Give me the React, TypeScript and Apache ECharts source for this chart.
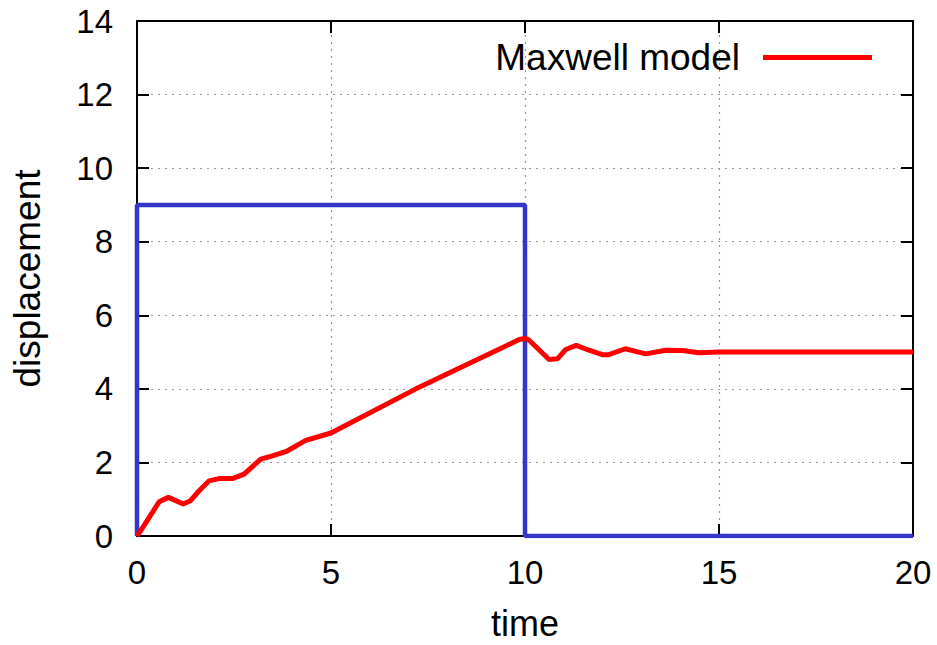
import React, { useEffect, useRef } from "react";
import * as echarts from "echarts";

const xTicks = [0, 5, 10, 15, 20];
const yTicks = [0, 2, 4, 6, 8, 10, 12, 14];

const maxwellX = [0, 0.18, 0.57, 0.81, 1.19, 1.38, 1.6, 1.86, 2.11, 2.46, 2.76, 3.19, 3.49, 3.87, 4.35, 5.0, 7.19, 9.85, 10.0, 10.1, 10.62, 10.84, 11.05, 11.32, 11.65, 11.99, 12.16, 12.59, 12.85, 13.11, 13.63, 14.06, 14.48, 15.0, 20.0];
const maxwellY = [0, 0.28, 0.93, 1.05, 0.87, 0.96, 1.23, 1.5, 1.56, 1.56, 1.68, 2.09, 2.18, 2.31, 2.6, 2.8, 4.0, 5.34, 5.37, 5.33, 4.8, 4.82, 5.07, 5.18, 5.05, 4.93, 4.93, 5.09, 5.02, 4.95, 5.05, 5.04, 4.98, 5.0, 5.0];

const forceX = [0, 0, 10, 10, 20];
const forceY = [0, 9, 9, 0, 0];

const FONT = "Liberation Sans, Arial, Helvetica, sans-serif";

export default function App() {
  const ref = useRef<HTMLDivElement>(null);
  useEffect(() => {
    if (!ref.current) return;
    const chart = echarts.init(ref.current, undefined, { renderer: "svg" });
    const axisLine = { show: true, onZero: false, lineStyle: { color: "#000", width: 2 } };
    const tick = { show: true, inside: true, length: 12, lineStyle: { color: "#000", width: 2 } };
    chart.setOption({
      animation: false,
      textStyle: { fontFamily: FONT },
      grid: { left: 137, right: 24, top: 21, bottom: 109, containLabel: false, outerBoundsMode: "none" },
      legend: {
        show: true,
        data: [{ name: "Maxwell model", icon: "rect" }],
        align: "right",
        right: 60,
        top: 34,
        itemWidth: 109,
        itemHeight: 5,
        textStyle: { fontSize: 37, color: "#000", fontFamily: FONT, padding: [0, 18, 0, 0] },
      },
      xAxis: [
        {
          type: "value",
          min: 0,
          max: 20,
          interval: 5,
          position: "bottom",
          name: "time",
          nameLocation: "middle",
          nameGap: 72,
          nameTextStyle: { fontSize: 36, lineHeight: 30, color: "#000", fontFamily: FONT },
          axisLine,
          axisTick: tick,
          axisLabel: { fontSize: 33, color: "#000", margin: 20, fontFamily: FONT, formatter: (v: number) => (xTicks.includes(v) ? String(v) : "") },
          splitLine: { show: true, lineStyle: { color: "#999", type: [2, 5], width: 1.2 } },
        },
        {
          type: "value",
          min: 0,
          max: 20,
          interval: 5,
          position: "top",
          axisLine,
          axisTick: tick,
          axisLabel: { show: false },
          splitLine: { show: false },
        },
      ],
      yAxis: [
        {
          type: "value",
          min: 0,
          max: 14,
          interval: 2,
          position: "left",
          name: "displacement",
          nameLocation: "middle",
          nameGap: 91,
          nameTextStyle: { fontSize: 37, color: "#000", fontFamily: FONT },
          axisLine,
          axisTick: tick,
          axisLabel: { fontSize: 33, color: "#000", margin: 24, fontFamily: FONT, formatter: (v: number) => (yTicks.includes(v) ? String(v) : "") },
          splitLine: { show: true, lineStyle: { color: "#999", type: [2, 5], width: 1.2 } },
        },
        {
          type: "value",
          min: 0,
          max: 14,
          interval: 2,
          position: "right",
          axisLine,
          axisTick: tick,
          axisLabel: { show: false },
          splitLine: { show: false },
        },
      ],
      series: [
        {
          name: "force",
          type: "line",
          data: forceX.map((x, i) => [x, forceY[i]]),
          showSymbol: false,
          symbol: "none",
          lineStyle: { color: "#3535c8", width: 4.5 },
          itemStyle: { color: "#3535c8" },
          z: 2,
        },
        {
          name: "Maxwell model",
          type: "line",
          data: maxwellX.map((x, i) => [x, maxwellY[i]]),
          showSymbol: false,
          symbol: "none",
          lineStyle: { color: "#ff0000", width: 5 },
          itemStyle: { color: "#ff0000" },
          z: 3,
        },
      ],
    });
    return () => chart.dispose();
  }, []);
  return <div ref={ref} style={{ width: 937, height: 645, position: "absolute", left: 0, top: 0, background: "#fff" }} />;
}
